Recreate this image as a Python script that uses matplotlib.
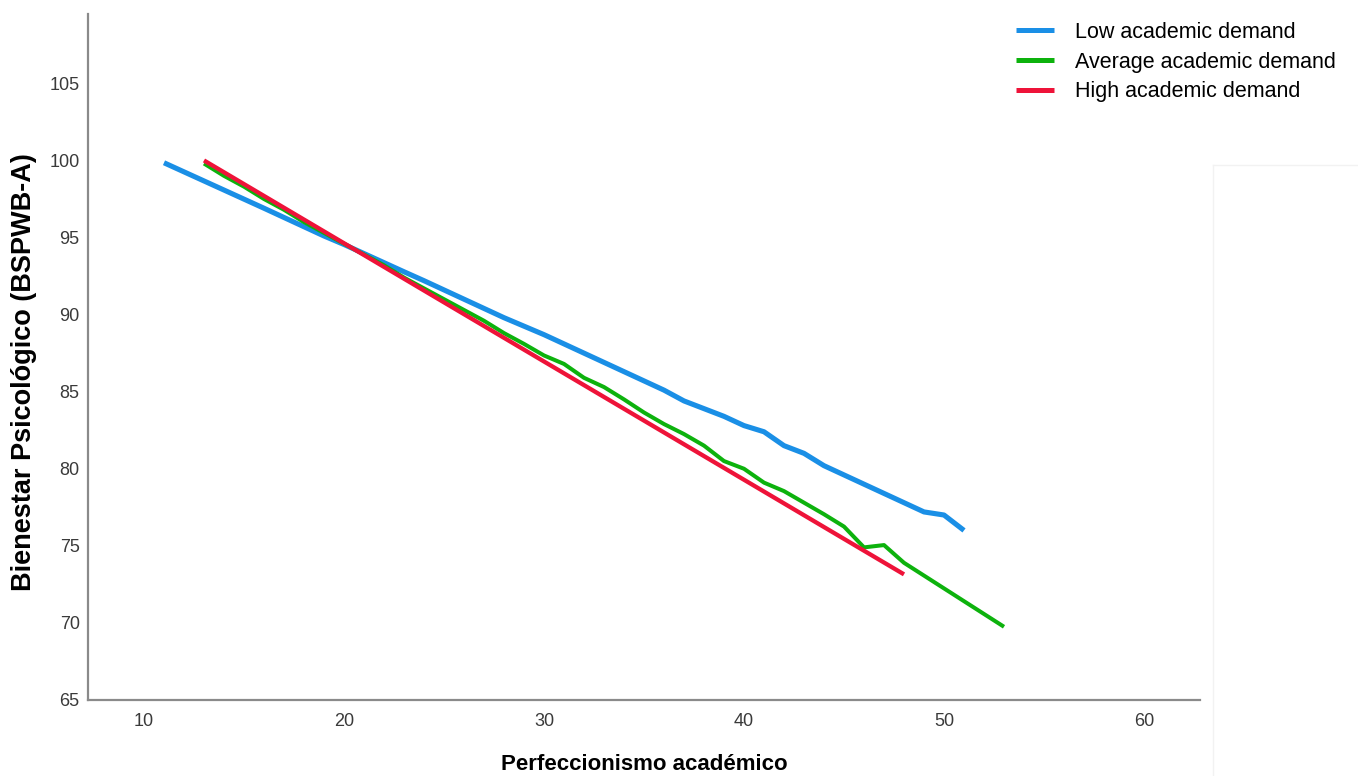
import matplotlib
matplotlib.use('Agg')
import matplotlib.pyplot as plt
from matplotlib.lines import Line2D

# --- data ---
low_x = list(range(11, 52))
low_y = [99.85, 99.26, 98.67, 98.08, 97.49, 96.9, 96.3, 95.7, 95.1, 94.55,
         93.96, 93.37, 92.78, 92.2, 91.6, 91.0, 90.4, 89.8, 89.25, 88.7,
         88.1, 87.5, 86.9, 86.3, 85.7, 85.1, 84.4, 83.9, 83.4, 82.8,
         82.4, 81.5, 81.0, 80.2, 79.6, 79.0, 78.4, 77.8, 77.2, 77.0,
         76.0]

avg_x = list(range(13, 49)) + [53]
avg_y = [99.8, 99.0, 98.3, 97.5, 96.8, 96.0, 95.3, 94.6, 93.9, 93.2,
         92.4, 91.7, 91.0, 90.3, 89.6, 88.8, 88.1, 87.35, 86.8, 85.9,
         85.3, 84.5, 83.65, 82.9, 82.25, 81.5, 80.5, 80.0, 79.1, 78.55,
         77.8, 77.05, 76.25, 74.9, 75.05, 73.9, 69.75]

high_x = [13, 48]
high_y = [100.0, 73.15]

labels = ['Low academic demand', 'Average academic demand', 'High academic demand']
x_ticks = [10, 20, 30, 40, 50, 60]
y_ticks = [65, 70, 75, 80, 85, 90, 95, 100, 105]

BLUE = '#1A8FE6'
GREEN = '#0DB20D'
RED = '#EE1339'
SPINE = '#8a8a8a'

plt.rcParams['font.family'] = ['Liberation Sans', 'DejaVu Sans']

fig = plt.figure(figsize=(13.58, 7.76), dpi=100)
ax = fig.add_axes([88 / 1358, 1 - 700 / 776, (1200 - 88) / 1358, (700 - 14) / 776])

ax.plot(low_x, low_y, color=BLUE, lw=3.7, solid_capstyle='butt', label=labels[0])
ax.plot(avg_x, avg_y, color=GREEN, lw=2.9, solid_capstyle='butt', label=labels[1])
ax.plot(high_x, high_y, color=RED, lw=3.1, solid_capstyle='butt', label=labels[2])

ax.set_xlim(7.2, 62.8)
ax.set_ylim(65, 109.5)
ax.set_xticks(x_ticks)
ax.set_yticks(y_ticks)
ax.tick_params(axis='both', length=0, labelsize=13, colors='#3a3a3a')
ax.tick_params(axis='x', pad=9)
ax.tick_params(axis='y', pad=6)

for s in ['top', 'right']:
    ax.spines[s].set_visible(False)
for s in ['left', 'bottom']:
    ax.spines[s].set_color(SPINE)
    ax.spines[s].set_linewidth(1.6)

ax.set_xlabel('Perfeccionismo académico', fontsize=16, fontweight='bold', va='baseline')
ax.xaxis.set_label_coords(0.5, -(770 - 700) / 686)
ax.set_ylabel('Bienestar Psicológico (BSPWB-A)', fontsize=19.5, fontweight='bold', va='center')
ax.yaxis.set_label_coords((24 - 88) / 1112, (700 - 372) / 686)

leg = ax.legend(loc='upper left', bbox_to_anchor=(1016 / 1358, 1 - 22 / 776),
                bbox_transform=fig.transFigure, frameon=False, fontsize=15.5,
                handlelength=1.75, handletextpad=1.0, labelspacing=0.4,
                borderpad=0, borderaxespad=0)
for h in leg.get_lines():
    h.set_linewidth(3.6)

# faint panel edge at the right
fig.add_artist(Line2D([1213 / 1358, 1213 / 1358], [0, 1 - 165 / 776],
                      transform=fig.transFigure, color='#f2f2f2', lw=1))
fig.add_artist(Line2D([1213 / 1358, 1], [1 - 165 / 776, 1 - 165 / 776],
                      transform=fig.transFigure, color='#f2f2f2', lw=1))

fig.savefig('out.png', dpi=100, facecolor='white')
plt.close(fig)
